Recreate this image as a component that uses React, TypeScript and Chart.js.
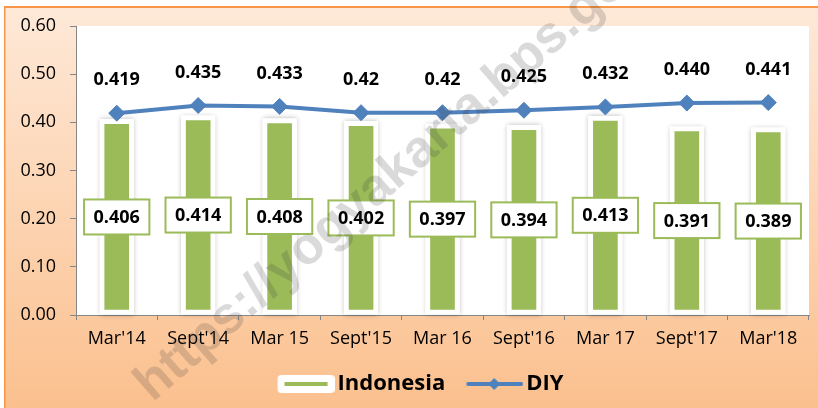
import React, { useEffect, useRef } from "react";
import { Chart, registerables } from "chart.js";

Chart.register(...registerables);

const categories = ["Mar'14", "Sept'14", "Mar 15", "Sept'15", "Mar 16", "Sept'16", "Mar 17", "Sept'17", "Mar'18"];
const indonesiaValues = [0.406, 0.414, 0.408, 0.402, 0.397, 0.394, 0.413, 0.391, 0.389];
const diyValues = [0.419, 0.435, 0.433, 0.42, 0.42, 0.425, 0.432, 0.44, 0.441];
const indonesiaLabels = ["0.406", "0.414", "0.408", "0.402", "0.397", "0.394", "0.413", "0.391", "0.389"];
const diyLabels = ["0.419", "0.435", "0.433", "0.42", "0.42", "0.425", "0.432", "0.440", "0.441"];
const seriesNames = ["Indonesia", "DIY"];
const yMin = 0;
const yMax = 0.6;
const yStep = 0.1;
const watermarkText = "https://yogyakarta.bps.go.id";

const GREEN = "#9BBB59";
const BLUE = "#4F81BD";
const AXIS = "#868686";
const FONT = "'Open Sans', 'Liberation Sans', sans-serif";

// legend icons: canvas 74 wide, visible content in the right part (x 17..74)
function makeLegendImage(kind: string): HTMLCanvasElement {
  const c = document.createElement("canvas");
  c.width = 74;
  c.height = 20;
  const ctx = c.getContext("2d")!;
  const ox = 17;
  if (kind === "bar") {
    ctx.fillStyle = "#ffffff";
    const r = 4;
    const x0 = ox, x1 = ox + 57, y0 = 1, y1 = 19;
    ctx.beginPath();
    ctx.moveTo(x0 + r, y0);
    ctx.lineTo(x1 - r, y0);
    ctx.quadraticCurveTo(x1, y0, x1, y0 + r);
    ctx.lineTo(x1, y1 - r);
    ctx.quadraticCurveTo(x1, y1, x1 - r, y1);
    ctx.lineTo(x0 + r, y1);
    ctx.quadraticCurveTo(x0, y1, x0, y1 - r);
    ctx.lineTo(x0, y0 + r);
    ctx.quadraticCurveTo(x0, y0, x0 + r, y0);
    ctx.closePath();
    ctx.fill();
    ctx.fillStyle = GREEN;
    ctx.fillRect(ox + 7, 8, 43, 4);
  } else {
    ctx.strokeStyle = BLUE;
    ctx.lineWidth = 4;
    ctx.lineCap = "round";
    ctx.beginPath();
    ctx.moveTo(ox + 2, 10);
    ctx.lineTo(ox + 55, 10);
    ctx.stroke();
    ctx.fillStyle = BLUE;
    ctx.beginPath();
    ctx.moveTo(ox + 28, 4);
    ctx.lineTo(ox + 34, 10);
    ctx.lineTo(ox + 28, 16);
    ctx.lineTo(ox + 22, 10);
    ctx.closePath();
    ctx.fill();
  }
  return c;
}

const backgroundPlugin = {
  id: "bgPlugin",
  beforeDraw(chart: any) {
    const { ctx, width, height, chartArea } = chart;
    ctx.save();
    ctx.fillStyle = "#ffffff";
    ctx.fillRect(0, 0, width, height);
    const g = ctx.createLinearGradient(0, 6, 0, height);
    g.addColorStop(0, "#FEE9D8");
    g.addColorStop(1, "#FBC08E");
    ctx.fillStyle = g;
    ctx.fillRect(4, 6, width - 4, height - 6);
    ctx.fillStyle = "#F79646";
    ctx.fillRect(4, 6, width - 4, 2);
    ctx.fillRect(4, 6, 1.5, height - 6);
    ctx.fillStyle = "#ffffff";
    ctx.fillRect(chartArea.left, chartArea.top, chartArea.right - chartArea.left, chartArea.bottom - chartArea.top);
    ctx.restore();
  },
};

const barGlowPlugin = {
  id: "barGlow",
  beforeDatasetsDraw(chart: any) {
    const meta = chart.getDatasetMeta(0);
    const ctx = chart.ctx;
    ctx.save();
    ctx.shadowColor = "rgba(0,0,0,0.28)";
    ctx.shadowBlur = 5;
    ctx.fillStyle = "#ffffff";
    meta.data.forEach((el: any) => {
      const p = el.getProps(["x", "y", "base", "width"], true);
      ctx.fillRect(p.x - p.width / 2, p.y, p.width, p.base - p.y);
    });
    ctx.restore();
  },
};

const labelPlugin = {
  id: "valueLabels",
  afterDatasetsDraw(chart: any) {
    const ctx = chart.ctx;
    ctx.save();
    ctx.font = `bold 18px ${FONT}`;
    ctx.textAlign = "center";
    ctx.textBaseline = "middle";
    const barMeta = chart.getDatasetMeta(0);
    barMeta.data.forEach((el: any, i: number) => {
      const p = el.getProps(["x", "y", "base"], true);
      const cy = (p.y + p.base) / 2;
      const text = indonesiaLabels[i];
      const w = ctx.measureText(text).width + 19;
      const h = 35;
      ctx.fillStyle = "#ffffff";
      ctx.fillRect(p.x - w / 2, cy - h / 2, w, h);
      ctx.strokeStyle = GREEN;
      ctx.lineWidth = 2;
      ctx.strokeRect(p.x - w / 2, cy - h / 2, w, h);
      ctx.fillStyle = "#000000";
      ctx.fillText(text, p.x, cy + 1);
    });
    const lineMeta = chart.getDatasetMeta(1);
    lineMeta.data.forEach((el: any, i: number) => {
      const p = el.getProps(["x", "y"], true);
      ctx.fillStyle = "#000000";
      ctx.fillText(diyLabels[i], p.x, p.y - 33);
    });
    ctx.restore();
  },
};

const watermarkPlugin = {
  id: "watermark",
  afterDraw(chart: any) {
    const ctx = chart.ctx;
    ctx.save();
    ctx.translate(143, 392);
    ctx.rotate((-41 * Math.PI) / 180);
    ctx.font = `bold 52px 'Liberation Sans', sans-serif`;
    ctx.textAlign = "left";
    ctx.textBaseline = "middle";
    ctx.fillStyle = "rgba(60,60,60,0.19)";
    ctx.fillText(watermarkText, 0, 0);
    ctx.restore();
  },
};

export default function App() {
  const ref = useRef<HTMLCanvasElement | null>(null);

  useEffect(() => {
    if (!ref.current) return;
    const imgBar = makeLegendImage("bar");
    const imgLine = makeLegendImage("line");
    const chart = new Chart(ref.current, {
      type: "bar",
      data: {
        labels: categories,
        datasets: [
          {
            type: "bar",
            label: seriesNames[0],
            data: indonesiaValues,
            backgroundColor: GREEN,
            borderColor: "#ffffff",
            borderWidth: 5,
            borderSkipped: false,
            barThickness: 34,
            order: 1,
          } as any,
          {
            type: "line",
            label: seriesNames[1],
            data: diyValues,
            borderColor: BLUE,
            backgroundColor: BLUE,
            borderWidth: 4,
            pointStyle: "rectRot",
            pointRadius: 8,
            pointBackgroundColor: BLUE,
            pointBorderColor: BLUE,
            pointBorderWidth: 1,
            tension: 0,
            order: 0,
          } as any,
        ],
      },
      options: {
        responsive: false,
        animation: false,
        events: [],
        layout: { padding: { left: 20, right: 6, top: 26, bottom: 3 } },
        plugins: {
          legend: {
            position: "bottom",
            labels: {
              usePointStyle: true,
              pointStyleWidth: 58,
              boxHeight: 20,
              padding: 12,
              color: "#000000",
              font: { family: FONT, size: 22, weight: "bold" },
              generateLabels: () => [
                { text: seriesNames[0], pointStyle: imgBar, datasetIndex: 0, hidden: false, lineWidth: 0, fontColor: "#000" },
                { text: seriesNames[1], pointStyle: imgLine, datasetIndex: 1, hidden: false, lineWidth: 0, fontColor: "#000" },
              ] as any,
            },
          },
          tooltip: { enabled: false },
        },
        scales: {
          x: {
            grid: { drawOnChartArea: false, drawTicks: true, tickLength: 5, color: AXIS, offset: true },
            border: { color: AXIS, width: 1 },
            ticks: { font: { family: FONT, size: 18 }, color: "#000000", padding: 8, maxRotation: 0, autoSkip: false },
            afterFit: (s: any) => {
              s.height = 46;
            },
          },
          y: {
            min: yMin,
            max: yMax,
            grid: { drawOnChartArea: false, drawTicks: true, tickLength: 6, color: AXIS },
            border: { color: AXIS, width: 1 },
            ticks: {
              stepSize: yStep,
              font: { family: FONT, size: 18 },
              color: "#000000",
              padding: 14,
              callback: (v: any) => Number(v).toFixed(2),
            },
            afterFit: (s: any) => {
              s.width = 56;
            },
          },
        },
      } as any,
      plugins: [backgroundPlugin, barGlowPlugin, labelPlugin, watermarkPlugin],
    });
    return () => chart.destroy();
  }, []);

  return (
    <div style={{ position: "absolute", left: 0, top: 0, width: 818, height: 408 }}>
      <canvas ref={ref} width={818} height={408} style={{ display: "block", width: 818, height: 408 }} />
    </div>
  );
}
